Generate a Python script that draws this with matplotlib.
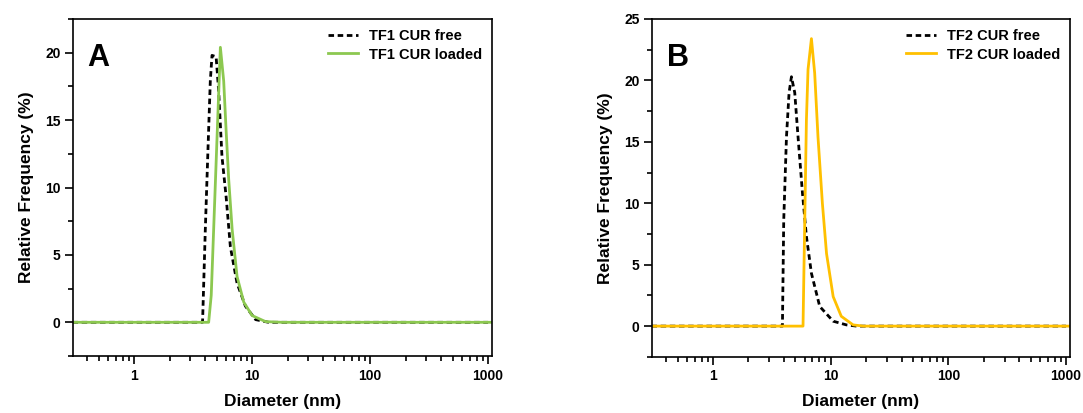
import numpy as np
import matplotlib
matplotlib.use("Agg")
import matplotlib.pyplot as plt
from matplotlib.ticker import LogLocator, NullFormatter, MultipleLocator, FixedLocator

plt.rcParams['font.family'] = ['Liberation Sans', 'DejaVu Sans']
plt.rcParams['font.weight'] = 'bold'

# panel A - TF1
tf1_free_d = [0.3, 3.80, 4.01, 4.23, 4.42, 4.57, 4.95, 5.2, 5.55, 6.02, 6.54, 7.45, 8.77, 10.7, 13.8, 1000]
tf1_free_f = [0, 0, 6.9, 13.0, 17.9, 19.8, 19.7, 17.2, 12.3, 9.3, 5.6, 2.9, 1.2, 0.2, 0, 0]
tf1_load_d = [0.3, 4.28, 4.5, 5.38, 5.74, 6.02, 6.33, 6.77, 7.45, 8.49, 10.0, 13.0, 18.0, 1050]
tf1_load_f = [0, 0, 2.0, 20.4, 17.9, 14.2, 10.6, 6.9, 3.4, 1.5, 0.5, 0.05, 0, 0]

# panel B - TF2
tf2_free_d = [0.3, 3.89, 3.99, 4.21, 4.43, 4.64, 4.95, 5.28, 5.76, 6.22, 6.86, 8.07, 10.5, 13.6, 16.6, 1000]
tf2_free_f = [0, 0, 8.6, 15.4, 19.0, 20.3, 19.0, 15.4, 10.8, 7.3, 4.3, 1.6, 0.4, 0.1, 0, 0]
tf2_load_d = [0.3, 5.82, 6.02, 6.22, 6.42, 6.86, 7.31, 7.80, 8.50, 9.22, 10.5, 12.3, 15.5, 19.0, 1050]
tf2_load_f = [0, 0, 8.6, 16.8, 20.9, 23.4, 20.6, 15.4, 10.0, 5.9, 2.4, 0.8, 0.1, 0, 0]

xticks = [1, 10, 100, 1000]
xtick_labels = ['1', '10', '100', '1000']

fig = plt.figure(figsize=(10.83, 4.13), dpi=100)
axA = fig.add_axes([0.0674, 0.138, 0.3869, 0.816])
axB = fig.add_axes([0.602, 0.136, 0.386, 0.818])


def style(ax, ylim, yticks, letter, free, loaded, color, names):
    ax.plot(free[0], free[1], color='black', ls=(0, (2, 1.3)), lw=2, label=names[0])
    ax.plot(loaded[0], loaded[1], color=color, lw=2, label=names[1])
    ax.set_xscale('log')
    ax.set_xlim(0.303, 1080)
    ax.set_ylim(*ylim)
    ax.xaxis.set_major_locator(FixedLocator(xticks))
    ax.set_xticklabels(xtick_labels)
    ax.xaxis.set_minor_locator(LogLocator(base=10, subs=np.arange(2, 10)))
    ax.xaxis.set_minor_formatter(NullFormatter())
    ax.set_yticks(yticks)
    ax.yaxis.set_minor_locator(MultipleLocator(2.5))
    ax.tick_params(which='both', direction='out', top=False, right=False, width=1.2)
    ax.tick_params(which='major', length=6, labelsize=10, pad=3)
    ax.tick_params(which='minor', length=3.5)
    for lab in ax.get_xticklabels() + ax.get_yticklabels():
        lab.set_fontweight('bold')
    for s in ax.spines.values():
        s.set_linewidth(1.2)
    ax.set_xlabel('Diameter (nm)', fontsize=12.5, fontweight='bold', labelpad=8)
    ax.set_ylabel('Relative Frequency (%)', fontsize=12.5, fontweight='bold', labelpad=8)
    ax.text(0.035, 0.93, letter, transform=ax.transAxes, fontsize=22, fontweight='bold',
            va='top', ha='left')
    leg = ax.legend(loc='upper right', frameon=False, fontsize=10.5, handlelength=2.1,
                    handletextpad=0.7, labelspacing=0.3, borderaxespad=0.3)
    for t in leg.get_texts():
        t.set_fontweight('bold')


style(axA, (-2.5, 22.5), [0, 5, 10, 15, 20], 'A', (tf1_free_d, tf1_free_f),
      (tf1_load_d, tf1_load_f), '#8CC850', ['TF1 CUR free', 'TF1 CUR loaded'])
style(axB, (-2.5, 25), [0, 5, 10, 15, 20, 25], 'B', (tf2_free_d, tf2_free_f),
      (tf2_load_d, tf2_load_f), '#FFC000', ['TF2 CUR free', 'TF2 CUR loaded'])

fig.savefig('out.png', dpi=100)
